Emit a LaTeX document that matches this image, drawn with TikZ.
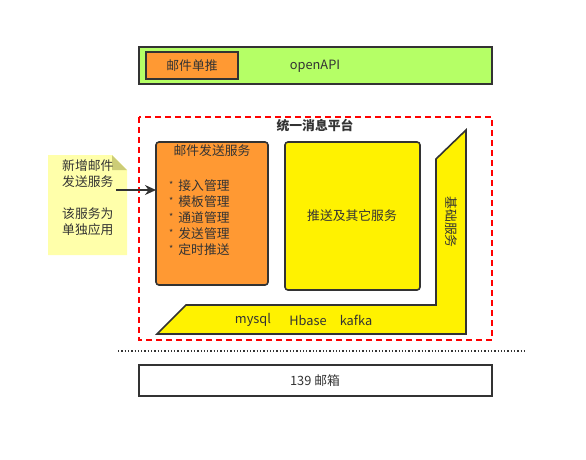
\documentclass[tikz,border=0pt]{standalone}
\usepackage{fontspec}
\setmainfont{Noto Sans CJK SC}
\usetikzlibrary{arrows.meta}

\definecolor{linegray}{HTML}{333333}
\definecolor{apigreen}{HTML}{B5FF66}
\definecolor{mailorange}{HTML}{FF9933}
\definecolor{notepale}{HTML}{FFFFAA}
\definecolor{notefold}{HTML}{CCCC77}

\tikzset{
    box/.style={draw=linegray, line width=1.6pt},
    txt/.style={font=\fontsize{12.8}{16}\selectfont, text=linegray, inner sep=0pt}
}

\begin{document}
\begin{tikzpicture}[x=1pt, y=-1pt]
        \useasboundingbox (0,0) rectangle (586,459);
        % openAPI
        \draw[box, fill=apigreen] (139,47) rectangle (492,84);
        \draw[box, fill=mailorange] (146,52) rectangle (238,79);
        \node[txt] (push) at (192,66) {邮件单推};
        \node[txt] (api) at (315,66) {openAPI};
        % platform
        \draw[red, dashed, line width=1.4pt, dash pattern=on 6pt off 4pt] (139,117) rectangle (492,340);
        \node[txt, font=\fontsize{12.8}{16}\selectfont\bfseries] (platform) at (315,126) {统一消息平台};
        \draw[box, fill=mailorange, rounded corners=3pt] (156,142) rectangle (268,285);
        \node[txt] (mail) at (212,151) {邮件发送服务};
        \node[txt, anchor=north west, align=left] (mailitems) at (169,179) {%
            \raisebox{1.5pt}{\fontsize{9}{9}\selectfont*}\, 接入管理\\
            \raisebox{1.5pt}{\fontsize{9}{9}\selectfont*}\, 模板管理\\
            \raisebox{1.5pt}{\fontsize{9}{9}\selectfont*}\, 通道管理\\
            \raisebox{1.5pt}{\fontsize{9}{9}\selectfont*}\, 发送管理\\
            \raisebox{1.5pt}{\fontsize{9}{9}\selectfont*}\, 定时推送};
        \draw[box, fill=yellow, rounded corners=3pt] (285,142) rectangle (420,290);
        \node[txt] (other) at (352,216) {推送及其它服务};
        % base services
        \draw[box, fill=yellow] (157,334) -- (186,305) -- (436,305) -- (436,159)
            -- (466,130) -- (466,334) -- cycle;
        \node[txt, rotate=-90] (base) at (451,222) {基础服务};
        \node[txt] (mysql) at (253,320) {mysql};
        \node[txt] (hbase) at (308,320) {Hbase};
        \node[txt] (kafka) at (356,320) {kafka};
        % note
        \fill[notepale] (48,155) -- (112,155) -- (127,170) -- (127,255) -- (48,255) -- cycle;
        \fill[notefold] (112,155) -- (127,170) -- (112,170) -- cycle;
        \node[txt, align=left, anchor=north west] (note) at (62,159) {新增邮件\\发送服务\\[16pt]该服务为\\单独应用};
        \coordinate (notetip) at (116,190);
        \draw[linegray, line width=1.5pt, -{Stealth[length=11pt, width=10pt]}] (notetip) -- (156,190);
        % mailbox
        \draw[linegray, line width=1.3pt, dotted] (118,351) -- (524,351);
        \draw[box] (139,365) rectangle (492,396);
        \node[txt] (mailbox) at (315,381) {139 邮箱};
    \end{tikzpicture}
\end{document}
